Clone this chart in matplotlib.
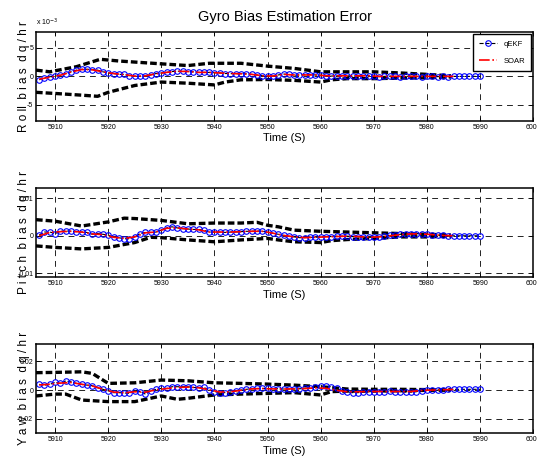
import numpy as np
import matplotlib
matplotlib.use('Agg')
import matplotlib.pyplot as plt

plt.rcParams['font.family'] = ['Liberation Sans Narrow', 'Liberation Sans', 'DejaVu Sans']

# qEKF estimate, one sample per second (x 1e-3 dg/hr)
t_qekf = np.arange(5907, 5991)
roll_qekf = [-0.6, -0.25, -0.1, 0.0, 0.25, 0.5, 0.8, 1.1, 1.25, 1.25,
             1.2, 1.1, 0.8, 0.6, 0.5, 0.35, 0.35, 0.1, 0.0, 0.0,
             0.05, 0.25, 0.5, 0.6, 0.7, 0.85, 0.9, 0.9, 0.85, 0.8,
             0.7, 0.7, 0.7, 0.65, 0.6, 0.5, 0.5, 0.45, 0.5, 0.45,
             0.35, 0.25, 0.1, 0.0, 0.05, 0.25, 0.4, 0.35, 0.2, 0.25,
             0.3, 0.3, 0.25, 0.2, 0.1, 0.05, 0.1, 0.15, 0.1, 0.05,
             0.1, 0.15, 0.1, 0.05, -0.05, 0.0, 0.05, 0.0, -0.05, 0.0,
             0.05, 0.0, -0.05, 0.0, 0.0, -0.05, 0.0, -0.05, 0.0, 0.0,
             0.0, 0.0, 0.0, 0.0]
pitch_qekf = [0.2, 1.0, 1.0, 0.6, 1.2, 1.3, 1.2, 1.1, 1.0, 0.9,
              0.4, 0.6, 0.4, 0.2, -0.4, -0.5, -0.8, -0.8, -0.3, 0.6,
              0.9, 0.9, 1.0, 1.5, 2.1, 2.4, 2.1, 1.9, 1.8, 1.7,
              1.7, 1.5, 1.0, 1.0, 1.0, 0.9, 1.0, 1.0, 1.1, 1.2,
              1.2, 1.3, 1.2, 1.0, 0.7, 0.4, 0.1, -0.1, -0.3, -0.5,
              -0.5, -0.4, -0.4, -0.3, -0.2, -0.2, -0.1, -0.1, -0.1, -0.2,
              -0.2, -0.3, -0.4, -0.4, -0.2, -0.1, 0.1, 0.3, 0.4, 0.5,
              0.6, 0.6, 0.5, 0.4, 0.3, 0.2, 0.1, 0.0, 0.0, 0.0,
              0.0, 0.0, 0.0, 0.0]
yaw_qekf = [3.9, 3.4, 3.9, 5.3, 4.6, 6.2, 5.7, 4.6, 3.9, 3.4,
            3.0, 1.6, 0.5, -0.5, -1.8, -1.8, -2.0, -2.3, -0.5, -1.1,
            -2.8, -0.5, 0.5, 1.1, 1.1, 2.3, 2.3, 2.3, 2.3, 1.8,
            1.6, 1.8, 0.0, -1.1, -1.8, -1.8, -1.4, -0.5, 0.0, 0.5,
            0.9, 1.1, 1.1, 1.1, 0.9, 0.9, 0.7, 0.7, 0.7, 0.9,
            1.1, 1.1, 1.8, 2.8, 2.5, 2.3, 1.1, -0.5, -1.4, -1.8,
            -1.8, -1.4, -1.1, -1.1, -1.1, -1.1, -0.9, -1.1, -1.1, -1.4,
            -1.4, -1.1, -0.5, -0.2, 0.0, 0.0, 0.2, 0.5, 0.5, 0.5,
            0.5, 0.5, 0.5, 0.5]

# SOAR estimate, every 2 s
t_soar = np.arange(5907, 5986, 2)
roll_soar = [-0.5, -0.15, 0.2, 0.75, 1.2, 1.15, 0.8, 0.5, 0.3, 0.05,
             0.1, 0.45, 0.7, 0.9, 0.85, 0.7, 0.7, 0.6, 0.5, 0.45,
             0.35, 0.1, 0.05, 0.35, 0.25, 0.25, 0.25, 0.1, 0.1, 0.1,
             0.1, 0.1, 0.0, 0.0, 0.0, 0.0, 0.0, 0.0, 0.0, 0.0]
pitch_soar = [0.0, 0.9, 1.1, 1.2, 1.0, 0.5, 0.3, -0.4, -0.7, -0.3,
              0.8, 1.0, 2.0, 2.1, 1.8, 1.6, 1.0, 1.0, 1.0, 1.1,
              1.2, 1.2, 0.7, 0.1, -0.3, -0.5, -0.4, -0.3, -0.2, -0.1,
              -0.2, -0.4, -0.3, 0.0, 0.3, 0.5, 0.5, 0.3, 0.1, 0.0]
yaw_soar = [3.5, 4.0, 4.8, 5.2, 4.0, 2.8, 0.6, -1.4, -1.9, -1.2,
            -1.5, 0.2, 1.0, 1.8, 2.0, 1.6, 0.2, -1.4, -1.2, -0.2,
            0.8, 1.0, 0.8, 0.7, 0.8, 1.0, 1.5, 1.2, -0.2, -1.2,
            -1.2, -1.0, -1.0, -1.0, -1.0, -1.0, -0.3, 0.0, 0.2, 0.4]

# error bounds (x 1e-3 dg/hr)
roll_up_t = [5906.4, 5909, 5914, 5918.5, 5922, 5930, 5935, 5939, 5945, 5950,
             5955, 5960, 5965, 5970, 5975, 5980, 5984.5]
roll_up = [1.1, 0.8, 1.7, 3.0, 2.7, 2.2, 1.9, 2.3, 2.3, 1.8,
           1.4, 0.8, 0.8, 0.8, 0.6, 0.35, 0.1]
roll_lo_t = [5906.4, 5910, 5915, 5918, 5920, 5925, 5930, 5935, 5940, 5942,
             5945, 5950, 5955, 5960, 5962, 5965, 5970, 5975, 5980, 5984.5]
roll_lo = [-2.8, -3.0, -3.3, -3.5, -2.8, -1.6, -1.0, -1.2, -1.5, -1.0,
           -0.6, -0.55, -0.7, -1.0, -0.6, -0.4, -0.4, -0.3, -0.25, -0.1]

pitch_up_t = [5906.4, 5910, 5915, 5920, 5923, 5925, 5930, 5935, 5940, 5945,
              5948, 5950, 5952, 5955, 5960, 5965, 5970, 5975, 5980, 5984.5]
pitch_up = [4.3, 3.9, 2.6, 3.7, 4.7, 4.6, 4.1, 3.2, 3.4, 3.4,
            3.6, 2.8, 2.4, 1.5, 1.2, 1.0, 0.8, 0.6, 0.4, 0.2]
pitch_lo_t = [5906.4, 5910, 5915, 5920, 5925, 5928, 5930, 5935, 5940, 5945,
              5950, 5952, 5955, 5960, 5962, 5965, 5970, 5975, 5980, 5984.5]
pitch_lo = [-2.7, -3.1, -3.5, -3.1, -1.8, -0.4, -0.5, -1.1, -1.6, -1.1,
            -0.7, -1.1, -1.6, -1.8, -1.3, -1.0, -0.7, -0.3, -0.3, -0.1]

yaw_up_t = [5906.4, 5910, 5915, 5917, 5920, 5925, 5930, 5935, 5940, 5945,
            5950, 5955, 5960, 5965, 5970, 5975, 5980, 5984.5]
yaw_up = [12.0, 12.2, 12.6, 11.5, 4.6, 5.0, 6.9, 6.4, 5.0, 4.6,
          4.1, 3.4, 2.3, 0.7, 0.5, 0.5, 0.3, 0.0]
yaw_lo_t = [5906.4, 5910, 5912, 5915, 5920, 5925, 5930, 5933, 5935, 5940,
            5945, 5950, 5955, 5960, 5962, 5965, 5970, 5975, 5980, 5984.5]
yaw_lo = [-4.1, -2.8, -2.8, -6.9, -8.0, -8.0, -4.1, -6.4, -5.7, -3.4,
          -2.8, -2.3, -1.8, -3.4, -1.1, -0.7, -0.7, -0.5, -0.2, 0.0]

xticks = np.arange(5910, 6001, 10)

panels = [
    dict(qekf=roll_qekf, soar=roll_soar, up_t=roll_up_t, up=roll_up,
         lo_t=roll_lo_t, lo=roll_lo, scale=1.0, ylim=(-7.8, 7.8),
         yticks=[-5, 0, 5], yticklabels=['-5', '0', '5'],
         ylabel='R o ll  b i a s  d q / h r'),
    dict(qekf=pitch_qekf, soar=pitch_soar, up_t=pitch_up_t, up=pitch_up,
         lo_t=pitch_lo_t, lo=pitch_lo, scale=1e-3, ylim=(-0.011, 0.0127),
         yticks=[-0.01, 0, 0.01], yticklabels=['-0.01', '0', '0.01'],
         ylabel='P i t c h  b i a s  d q / h r'),
    dict(qekf=yaw_qekf, soar=yaw_soar, up_t=yaw_up_t, up=yaw_up,
         lo_t=yaw_lo_t, lo=yaw_lo, scale=1e-3, ylim=(-0.0297, 0.0317),
         yticks=[-0.02, 0, 0.02], yticklabels=['-0.02', '0', '0.02'],
         ylabel='Y a w  b i a s  d q / h r'),
]

fig = plt.figure(figsize=(5.37, 4.70), dpi=100)
bottoms = [0.743, 0.4106, 0.0787]
axes = [fig.add_axes([0.067, b, 0.926, 0.189]) for b in bottoms]

for ax, p in zip(axes, panels):
    s = p['scale']
    ax.plot(p['up_t'], np.array(p['up']) * s, color='k', ls=(0, (2.0, 0.9)), lw=2.4)
    ax.plot(p['lo_t'], np.array(p['lo']) * s, color='k', ls=(0, (2.0, 0.9)), lw=2.4)
    ax.plot(t_qekf, np.array(p['qekf']) * s, color='k', ls='--', lw=0.8,
            marker='o', ms=4, mfc='none', mec='blue', mew=0.8, label='qEKF')
    ax.plot(t_soar, np.array(p['soar']) * s, color='red', ls='-.', lw=1.2,
            label='SOAR')
    ax.set_xlim(5906.4, 6000)
    ax.set_ylim(*p['ylim'])
    ax.set_xticks(xticks)
    ax.set_xticklabels([str(x) for x in xticks], fontsize=5)
    ax.set_yticks(p['yticks'])
    ax.set_yticklabels(p['yticklabels'], fontsize=5)
    ax.tick_params(direction='in', length=3, width=0.6, top=True, right=True, pad=2)
    ax.grid(True, color='#222222', ls=(0, (6, 5)), lw=0.7)
    for sp in ax.spines.values():
        sp.set_linewidth(1.1)
    ax.set_xlabel('Time (S)', fontsize=8, labelpad=2)
    ax.set_ylabel(p['ylabel'], fontsize=8.5)
    ax.yaxis.set_label_coords(-0.012, 0.5)

axes[0].set_title('Gyro Bias Estimation Error', fontsize=10.5, pad=8)
axes[0].text(0.0, 1.04, r'x 10$^{-3}$', transform=axes[0].transAxes,
             fontsize=5, ha='left', va='bottom')
leg = axes[0].legend(loc='upper right', fontsize=5.5, handlelength=2.4,
                     fancybox=False, edgecolor='k', framealpha=1,
                     borderaxespad=0.3, labelspacing=1.3, borderpad=0.8)
leg.get_frame().set_linewidth(1.0)

fig.savefig('out.png', dpi=100)
